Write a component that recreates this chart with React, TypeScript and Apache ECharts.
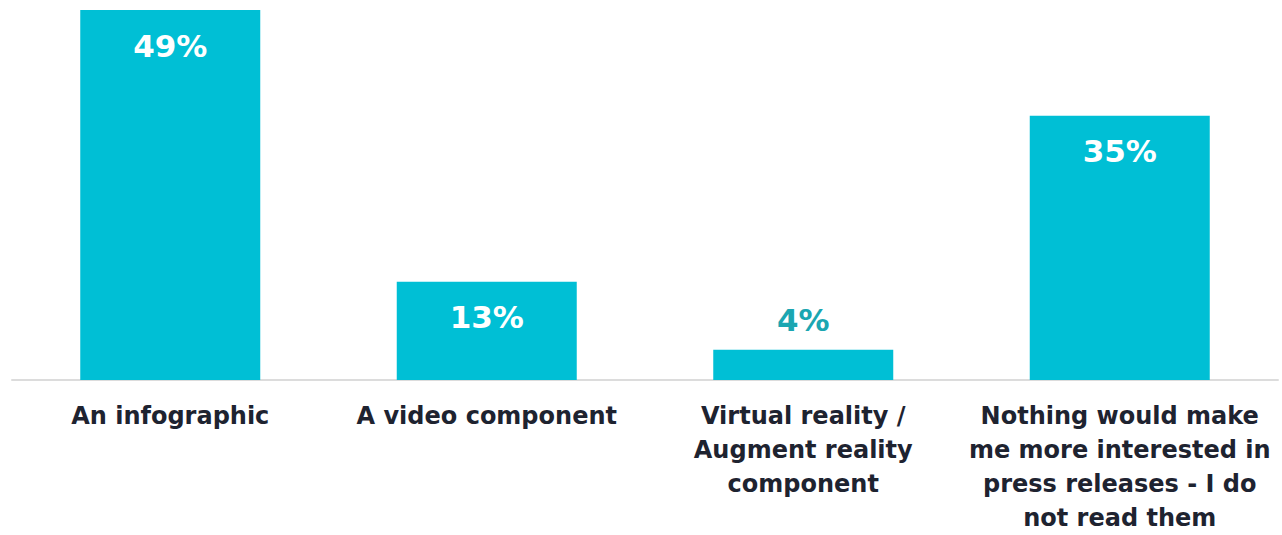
import React, { useEffect, useRef } from "react";
import * as echarts from "echarts";

const categories = [
  "An infographic",
  "A video component",
  "Virtual reality /\nAugment reality\ncomponent",
  "Nothing would make\nme more interested in\npress releases - I do\nnot read them",
];
const values = [49, 13, 4, 35];

export default function App() {
  const ref = useRef<HTMLDivElement>(null);
  useEffect(() => {
    const chart = echarts.init(ref.current!, undefined, { renderer: "svg" });
    chart.setOption({
      animation: false,
      grid: { left: 12, right: 4, top: 10, bottom: 150 },
      xAxis: {
        type: "category",
        data: categories,
        axisLine: { lineStyle: { color: "#dcdcdc", width: 2 } },
        axisTick: { show: false },
        axisLabel: {
          interval: 0,
          margin: 19,
          color: "#1e2330",
          fontFamily: "DejaVu Sans",
          fontWeight: "bold",
          fontSize: 24,
          lineHeight: 34,
        },
      },
      yAxis: { type: "value", min: 0, max: 49, show: false, splitLine: { show: false } },
      series: [
        {
          type: "bar",
          barWidth: 180,
          data: values.map((v) => ({
            value: v,
            label:
              v < 8
                ? { show: true, position: "top", distance: 14, color: "#1ba6b1" }
                : { show: true, position: "insideTop", distance: 20, color: "#ffffff" },
          })),
          itemStyle: { color: "#00bfd5" },
          label: {
            show: true,
            formatter: "{c}%",
            fontFamily: "DejaVu Sans",
            fontWeight: "bold",
            fontSize: 31,
          },
        },
      ],
    });
    return () => chart.dispose();
  }, []);
  return (
    <div
      ref={ref}
      style={{ position: "fixed", left: 0, top: 0, width: 1282, height: 535, background: "#fff" }}
    />
  );
}
